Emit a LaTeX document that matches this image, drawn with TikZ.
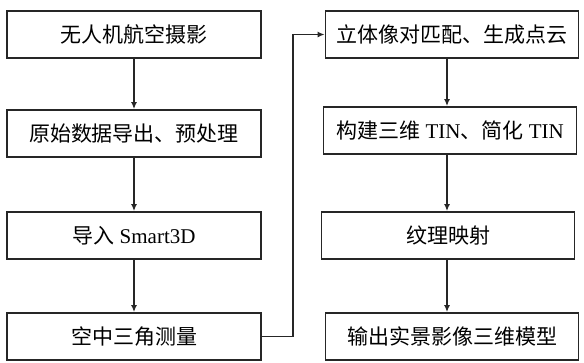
\documentclass[tikz,border=0pt]{standalone}
\usepackage{fontspec}
\setmainfont{Liberation Serif}
\newfontfamily\cjk{Noto Sans CJK SC}
\usetikzlibrary{arrows.meta}
\begin{document}
\begin{tikzpicture}[x=1pt,y=-1pt,
  boxL/.style={draw=black!85,line width=1.8pt,minimum width=254pt,minimum height=47pt,inner sep=0pt,font=\fontsize{21}{24}\selectfont},
  boxR/.style={boxL,minimum width=253pt},
  arr/.style={draw=black!85,line width=1.8pt,-{Latex[length=7pt,width=6pt]}}]
\useasboundingbox (0,0) rectangle (584,362);
\node[boxL] (L1) at (134,34.5) {\cjk 无人机航空摄影};
\node[boxL] (L2) at (134,133.5) {\cjk 原始数据导出、预处理};
\node[boxL] (L3) at (134,235.5) {{\cjk 导入} Smart3D};
\node[boxL] (L4) at (134,336.5) {\cjk 空中三角测量};
\node[boxR] (R1) at (452,34.5) {\cjk 立体像对匹配、生成点云};
\node[boxR] (R2) at (450,130.5) {{\cjk 构建三维} TIN{\cjk 、简化} TIN};
\node[boxR] (R3) at (448,235.5) {\cjk 纹理映射};
\node[boxR] (R4) at (452,336.5) {\cjk 输出实景影像三维模型};
\coordinate (turn) at (293,180);
\draw[arr] (L1) -- (L2);
\draw[arr] (L2) -- (L3);
\draw[arr] (L3) -- (L4);
\draw[arr] (L4.east) -| (turn) |- (R1.west);
\draw[arr] (R1.south -| 447,0) -- (R2.north -| 447,0);
\draw[arr] (R2.south -| 447,0) -- (R3.north -| 447,0);
\draw[arr] (R3.south -| 447,0) -- (R4.north -| 447,0);
\end{tikzpicture}
\end{document}
